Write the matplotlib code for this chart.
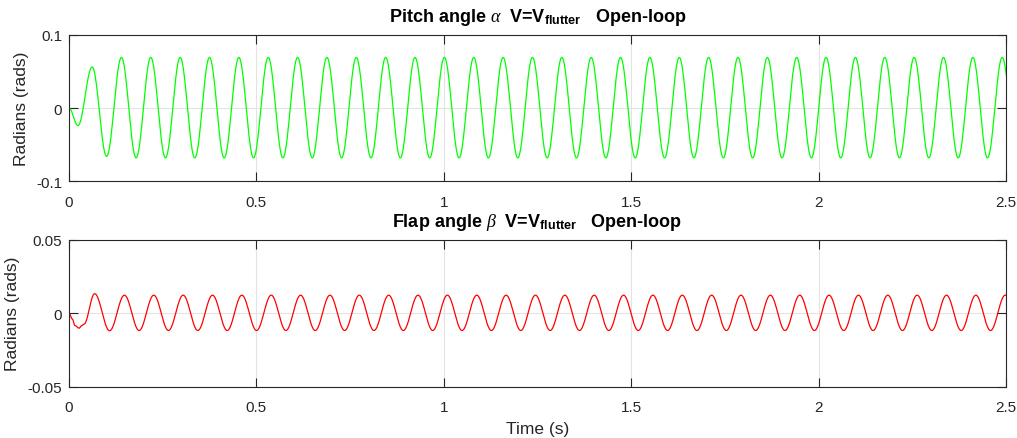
import numpy as np
import matplotlib
matplotlib.use('Agg')
import matplotlib.pyplot as plt

plt.rcParams['font.family'] = ['Liberation Sans', 'DejaVu Sans']
plt.rcParams['mathtext.fontset'] = 'custom'
plt.rcParams['mathtext.rm'] = 'Liberation Sans'
plt.rcParams['mathtext.it'] = 'Liberation Serif:italic'
plt.rcParams['mathtext.bf'] = 'Liberation Sans:bold'
plt.rcParams['axes.unicode_minus'] = False

# extrema (peaks / troughs), seconds and rads
pitch_t = [0.0, 0.024, 0.062, 0.1005,
           0.1400, 0.1792, 0.2183, 0.2575, 0.2967, 0.3358, 0.3750, 0.4142,
           0.4533, 0.4925, 0.5317, 0.5708, 0.6100, 0.6491, 0.6883, 0.7275,
           0.7666, 0.8058, 0.8450, 0.8841, 0.9233, 0.9625, 1.0016, 1.0408,
           1.0800, 1.1191, 1.1583, 1.1975, 1.2366, 1.2758, 1.3150, 1.3541,
           1.3933, 1.4324, 1.4716, 1.5108, 1.5499, 1.5891, 1.6283, 1.6674,
           1.7066, 1.7458, 1.7849, 1.8241, 1.8633, 1.9024, 1.9416, 1.9808,
           2.0199, 2.0591, 2.0983, 2.1374, 2.1766, 2.2157, 2.2549, 2.2941,
           2.3332, 2.3724, 2.4116, 2.4507, 2.4899, 2.5290]
pitch_v = [0.0, -0.024, 0.056, -0.066,
           0.069, -0.068, 0.069, -0.068, 0.069, -0.068, 0.069, -0.068,
           0.069, -0.068, 0.069, -0.068, 0.069, -0.068, 0.069, -0.068,
           0.069, -0.068, 0.069, -0.068, 0.069, -0.068, 0.069, -0.068,
           0.069, -0.068, 0.069, -0.068, 0.069, -0.068, 0.069, -0.068,
           0.069, -0.068, 0.069, -0.068, 0.069, -0.068, 0.069, -0.068,
           0.069, -0.068, 0.069, -0.068, 0.069, -0.068, 0.069, -0.068,
           0.069, -0.068, 0.069, -0.068, 0.069, -0.068, 0.069, -0.068,
           0.069, -0.068, 0.069, -0.068, 0.069, -0.068]

flap_t = [0.0, 0.009, 0.016, 0.027, 0.034, 0.040, 0.0685, 0.1085,
          0.1480, 0.1872, 0.2263, 0.2655, 0.3047, 0.3438, 0.3830, 0.4222,
          0.4613, 0.5005, 0.5397, 0.5788, 0.6180, 0.6571, 0.6963, 0.7355,
          0.7746, 0.8138, 0.8530, 0.8921, 0.9313, 0.9705, 1.0096, 1.0488,
          1.0880, 1.1271, 1.1663, 1.2055, 1.2446, 1.2838, 1.3230, 1.3621,
          1.4013, 1.4404, 1.4796, 1.5188, 1.5579, 1.5971, 1.6363, 1.6754,
          1.7146, 1.7538, 1.7929, 1.8321, 1.8713, 1.9104, 1.9496, 1.9888,
          2.0279, 2.0671, 2.1063, 2.1454, 2.1846, 2.2237, 2.2629, 2.3021,
          2.3412, 2.3804, 2.4196, 2.4587, 2.4979, 2.5370]
flap_v = [0.0, -0.004, -0.0085, -0.0102, -0.0085, -0.0075, 0.0133, -0.012,
          0.0123, -0.0118, 0.0123, -0.0118, 0.0123, -0.0118, 0.0123, -0.0118,
          0.0123, -0.0118, 0.0123, -0.0118, 0.0123, -0.0118, 0.0123, -0.0118,
          0.0123, -0.0118, 0.0123, -0.0118, 0.0123, -0.0118, 0.0123, -0.0118,
          0.0123, -0.0118, 0.0123, -0.0118, 0.0123, -0.0118, 0.0123, -0.0118,
          0.0123, -0.0118, 0.0123, -0.0118, 0.0123, -0.0118, 0.0123, -0.0118,
          0.0123, -0.0118, 0.0123, -0.0118, 0.0123, -0.0118, 0.0123, -0.0118,
          0.0123, -0.0118, 0.0123, -0.0118, 0.0123, -0.0118, 0.0123, -0.0118,
          0.0123, -0.0118, 0.0123, -0.0118, 0.0123, -0.0118]

x_ticks = [0, 0.5, 1, 1.5, 2, 2.5]
x_labels = ['0', '0.5', '1', '1.5', '2', '2.5']
pitch_yticks = [-0.1, 0, 0.1]
pitch_ylabels = ['-0.1', '0', '0.1']
flap_yticks = [-0.05, 0, 0.05]
flap_ylabels = ['-0.05', '0', '0.05']


def smooth(t, v, n=40):
    # half-cosine shape between consecutive extrema
    xs, ys = [], []
    for i in range(len(t) - 1):
        s = np.linspace(0, 1, n, endpoint=False)
        xs.append(t[i] + (t[i + 1] - t[i]) * s)
        ys.append(v[i] + (v[i + 1] - v[i]) * (1 - np.cos(np.pi * s)) / 2)
    xs.append([t[-1]])
    ys.append([v[-1]])
    return np.concatenate(xs), np.concatenate(ys)


fig = plt.figure(figsize=(10.17, 4.39), dpi=100)
ax1 = fig.add_axes([0.0678, 0.5847, 0.9214, 0.334])
ax2 = fig.add_axes([0.0678, 0.1173, 0.9214, 0.334])

dark = '#262626'
for ax, t, v, col, yt, yl, ttl in [
        (ax1, pitch_t, pitch_v, '#00ff00', pitch_yticks, pitch_ylabels,
         r'Pitch angle $\alpha$  V=V$_{\mathbf{flutter}}$   Open-loop'),
        (ax2, flap_t, flap_v, '#ff0000', flap_yticks, flap_ylabels,
         r'Flap angle $\beta$  V=V$_{\mathbf{flutter}}$   Open-loop')]:
    xs, ys = smooth(t, v)
    ax.plot(xs, ys, color=col, lw=0.9)
    ax.set_xlim(0, 2.5)
    ax.set_ylim(yt[0], yt[-1])
    ax.set_xticks(x_ticks)
    ax.set_xticklabels(x_labels)
    ax.set_yticks(yt)
    ax.set_yticklabels(yl)
    ax.grid(True, color='#e3e3e3', lw=0.8)
    ax.set_axisbelow(True)
    ax.tick_params(direction='in', length=6.7, width=0.8, colors=dark,
                   labelsize=11, top=True, right=True)
    ax.tick_params(axis='x', pad=9.5)
    ax.tick_params(axis='y', pad=5)
    for sp in ax.spines.values():
        sp.set_color(dark)
        sp.set_linewidth(0.8)
    ax.set_ylabel('Radians (rads)', fontsize=12.5, color=dark, labelpad=5)
    ax.set_title(ttl, fontsize=13, fontweight='bold', color='black', pad=10)

ax2.set_xlabel('Time (s)', fontsize=12.5, color=dark, labelpad=5)

fig.savefig('out.png', dpi=100)
